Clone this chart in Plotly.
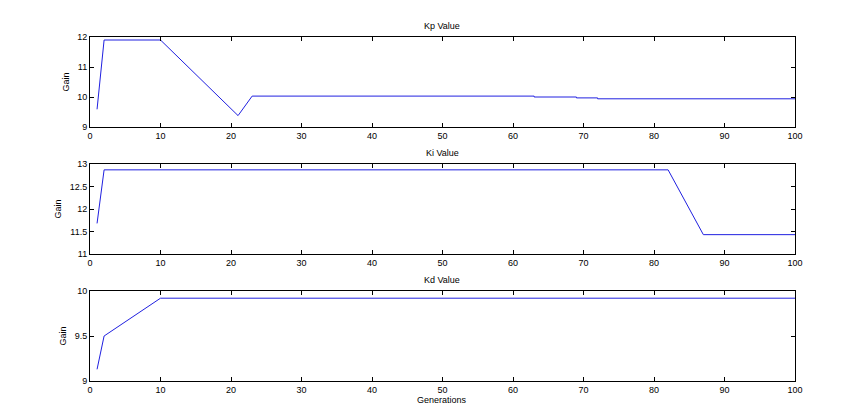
import plotly.graph_objects as go

# Data
kp_gen = [1, 2, 10, 21, 23, 63, 63, 69, 69, 72, 72, 100]
kp_val = [9.59, 11.9, 11.9, 9.38, 10.03, 10.03, 10.0, 10.0, 9.97, 9.97, 9.94, 9.94]

ki_gen = [1, 2, 82, 87, 100]
ki_val = [11.68, 12.87, 12.87, 11.43, 11.43]

kd_gen = [1, 2, 10, 100]
kd_val = [9.13, 9.50, 9.92, 9.92]

titles = ["Kp Value", "Ki Value", "Kd Value"]
y_ranges = [[9, 12], [11, 13], [9, 10]]
y_ticks = [[9, 10, 11, 12], [11, 11.5, 12, 12.5, 13], [9, 9.5, 10]]
x_ticks = list(range(0, 101, 10))

W, H = 861, 408
OFF = 8  # page body margin offset
x0, x1 = (90 - OFF) / W, (795 - OFF) / W
panels_px = [(37 - OFF, 127 - OFF), (164 - OFF, 254 - OFF), (291 - OFF, 381 - OFF)]

fig = go.Figure()
font = dict(family="Liberation Sans, Arial, sans-serif", size=9, color="black")

series = [(kp_gen, kp_val), (ki_gen, ki_val), (kd_gen, kd_val)]
for i, (gx, gy) in enumerate(series):
    n = "" if i == 0 else str(i + 1)
    fig.add_trace(go.Scatter(x=gx, y=gy, mode="lines",
                             line=dict(color="#2020e0", width=1),
                             xaxis="x" + n, yaxis="y" + n, showlegend=False))
    top, bot = panels_px[i]
    ydom = [(H - bot) / H, (H - top) / H]
    axcommon = dict(showgrid=False, zeroline=False, showline=True, linecolor="black",
                    linewidth=1, mirror="ticks", ticks="inside", ticklen=4,
                    tickcolor="black", tickfont=font, automargin=False)
    fig.layout["xaxis" + n] = dict(domain=[x0, x1], range=[0, 100], tickvals=x_ticks,
                                   anchor="y" + n, **axcommon)
    fig.layout["yaxis" + n] = dict(domain=ydom, range=y_ranges[i], tickvals=y_ticks[i],
                                   anchor="x" + n,
                                   title=dict(text="Gain", font=font, standoff=6),
                                   **axcommon)
    fig.add_annotation(text=titles[i], x=(x0 + x1) / 2, y=(H - top + 4) / H,
                       xref="paper", yref="paper", showarrow=False,
                       xanchor="center", yanchor="bottom", font=font)

fig.add_annotation(text="Generations", x=(x0 + x1) / 2, y=(H - (393 - OFF)) / H,
                   xref="paper", yref="paper", showarrow=False,
                   xanchor="center", yanchor="top", font=font)

fig.update_layout(width=W, height=H, margin=dict(l=0, r=0, t=0, b=0, autoexpand=False),
                  paper_bgcolor="white", plot_bgcolor="white")

fig.write_html("out.html")
